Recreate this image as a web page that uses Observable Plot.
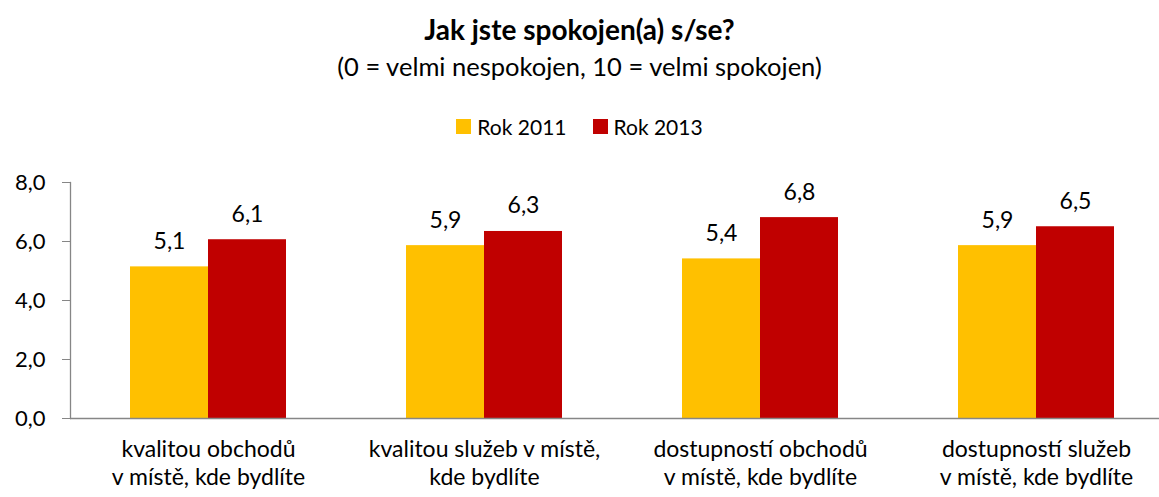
<!DOCTYPE html>
<html><head><meta charset="utf-8">
<script src="https://cdn.jsdelivr.net/npm/d3@7"></script>
<script src="https://cdn.jsdelivr.net/npm/@observablehq/plot@0.6"></script>
<style>
html,body{margin:0;padding:0;background:#fff;}
#wrap{position:relative;width:1159px;height:497px;overflow:hidden;font-family:Lato,sans-serif;color:#000;}
.t{position:absolute;left:0;width:1159px;text-align:center;line-height:1.2;white-space:nowrap;}
#title{top:13px;font-size:28px;font-weight:bold;}
#subtitle{top:51px;font-size:25.5px;}
#legend{top:114px;font-size:21px;display:flex;justify-content:center;gap:26px;}
#legend span.item{display:inline-flex;align-items:center;}
#legend span.sw{display:inline-block;width:15px;height:15px;margin-right:6px;}
#chart{position:absolute;left:0;top:150px;}
</style></head><body>
<div id="wrap">
<div class="t" id="title">Jak jste spokojen(a) s/se?</div>
<div class="t" id="subtitle">(0 = velmi nespokojen, 10 = velmi spokojen)</div>
<div class="t" id="legend"></div>
<div id="chart"></div>
</div>
<script>
const categories = [
  "kvalitou obchodů\nv místě, kde bydlíte",
  "kvalitou služeb v místě,\nkde bydlíte",
  "dostupností obchodů\nv místě, kde bydlíte",
  "dostupností služeb\nv místě, kde bydlíte"
];
const series = ["Rok 2011", "Rok 2013"];
const values2011 = [5.14, 5.86, 5.41, 5.86];
const values2013 = [6.06, 6.34, 6.81, 6.50];
const colors = ["#FFC000", "#C00000"];
const yTicks = [0, 2, 4, 6, 8];

const data = categories.flatMap((c, i) => [
  {cat: c, year: series[0], v: values2011[i]},
  {cat: c, year: series[1], v: values2013[i]}
]);
const fmt = v => d3.format(".1f")(v).replace(".", ",");

const legend = document.getElementById("legend");
series.forEach((s, i) => {
  const it = document.createElement("span");
  it.className = "item";
  const sw = document.createElement("span");
  sw.className = "sw";
  sw.style.background = colors[i];
  it.appendChild(sw);
  it.appendChild(document.createTextNode(s));
  legend.appendChild(it);
});

const chart = Plot.plot({
  width: 1159,
  height: 347,
  marginLeft: 69,
  marginRight: -15,
  marginTop: 32,
  marginBottom: 79,
  style: {fontFamily: "Lato, sans-serif", fontSize: "22px", color: "#000", background: "#fff", overflow: "hidden"},
  fx: {domain: categories, padding: 0, label: null},
  x: {domain: series, paddingInner: 0, paddingOuter: 0.76, axis: null},
  y: {domain: [0, 8], label: null},
  color: {domain: series, range: colors},
  marks: [
    Plot.barY(data, {fx: "cat", x: "year", y: "v", fill: "year"}),
    Plot.text(data, {fx: "cat", x: "year", y: "v", text: d => fmt(d.v), lineAnchor: "bottom", dy: -18, fill: "#000", fontSize: 23}),
    Plot.ruleY([0], {stroke: "#868686", strokeWidth: 1.3}),
    Plot.frame({anchor: "left", facetAnchor: "left", stroke: "#868686", strokeWidth: 1.3}),
    Plot.axisY({ticks: yTicks, tickFormat: fmt, tickSize: 8, tickPadding: 17, stroke: "#868686", fill: "#000", label: null, fontSize: 22}),
    Plot.axisFx({anchor: "bottom", tickSize: 0, tickPadding: 18, lineHeight: 1.235, fill: "#000", label: null, fontSize: 23, tickFormat: d => d})
  ]
});
document.getElementById("chart").appendChild(chart);
</script>
</body></html>
